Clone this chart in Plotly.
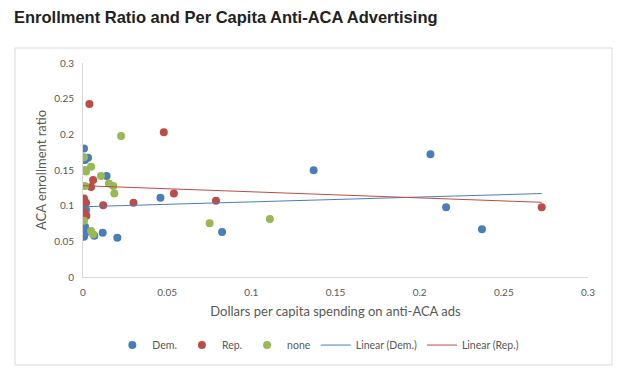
import plotly.graph_objects as go

dem_x = [0.0006, 0.0012, 0.003, 0.014, 0.046, 0.0006, 0.0018, 0.0012, 0.0012, 0.0006,
         0.0067, 0.0117, 0.0204, 0.0826, 0.137, 0.2064, 0.2157, 0.237]
dem_y = [0.180, 0.164, 0.167, 0.1416, 0.111, 0.0977, 0.094, 0.0705, 0.061, 0.0565,
         0.058, 0.062, 0.055, 0.063, 0.1496, 0.172, 0.0977, 0.0669]

rep_x = [0.0038, 0.048, 0.006, 0.0048, 0.0006, 0.0018, 0.012, 0.030, 0.054, 0.079,
         0.0006, 0.002, 0.2725]
rep_y = [0.2425, 0.203, 0.136, 0.126, 0.110, 0.104, 0.1005, 0.104, 0.117, 0.107,
         0.0907, 0.086, 0.0977]

none_x = [0.0226, 0.0006, 0.0012, 0.0018, 0.0048, 0.0107, 0.0154, 0.018, 0.0186,
          0.0012, 0.0006, 0.0048, 0.006, 0.0752, 0.111]
none_y = [0.1977, 0.1678, 0.150, 0.148, 0.1547, 0.1416, 0.131, 0.1276, 0.117,
          0.1276, 0.079, 0.0645, 0.060, 0.0752, 0.0813]

trend_x = [0.0, 0.2725]
dem_trend = [0.0985, 0.117]
rep_trend = [0.128, 0.1047]

ticks = [0, 0.05, 0.1, 0.15, 0.2, 0.25, 0.3]
tick_labels = ["0", "0.05", "0.1", "0.15", "0.2", "0.25", "0.3"]

BLUE = "#4A7EBB"
RED = "#BE4B48"
GREEN = "#98B954"
FONT = "Lato"

fig = go.Figure()
fig.add_trace(go.Scatter(x=dem_x, y=dem_y, mode="markers", name="Dem.",
                         marker=dict(color=BLUE, size=8)))
fig.add_trace(go.Scatter(x=rep_x, y=rep_y, mode="markers", name="Rep.",
                         marker=dict(color=RED, size=8)))
fig.add_trace(go.Scatter(x=none_x, y=none_y, mode="markers", name="none",
                         marker=dict(color=GREEN, size=8)))
fig.add_trace(go.Scatter(x=trend_x, y=dem_trend, mode="lines", name="Linear (Dem.)",
                         line=dict(color=BLUE, width=1)))
fig.add_trace(go.Scatter(x=trend_x, y=rep_trend, mode="lines", name="Linear (Rep.)",
                         line=dict(color=RED, width=1)))

fig.update_layout(
    width=613, height=379,
    margin=dict(l=75, r=33, t=55, b=110),
    paper_bgcolor="white", plot_bgcolor="white",
    font=dict(family=FONT, color="#595959", size=10),
    title=dict(text="<b>Enrollment Ratio and Per Capita Anti-ACA Advertising</b>",
               x=6 / 613, xanchor="left", y=1 - 9 / 379, yanchor="middle",
               font=dict(family="Liberation Sans, Arial", size=16.5, color="#222222")),
    showlegend=True,
    legend=dict(orientation="h", x=0.466, xanchor="center", y=-0.318, yanchor="middle",
                font=dict(size=10.5, color="#595959"), itemwidth=30,
                bgcolor="rgba(0,0,0,0)"),
    xaxis=dict(range=[0, 0.3], tickvals=ticks, ticktext=tick_labels,
               showgrid=False, zeroline=False, showline=True, linecolor="#D9D9D9",
               linewidth=1, ticks="", ticklabelstandoff=6,
               title=dict(text="Dollars per capita spending on anti-ACA ads",
                          font=dict(size=13, color="#595959"), standoff=9)),
    yaxis=dict(range=[0, 0.3], tickvals=ticks, ticktext=tick_labels,
               showgrid=False, zeroline=False, showline=True, linecolor="#D9D9D9",
               linewidth=1, ticks="", ticklabelstandoff=6,
               title=dict(text="ACA enrollment ratio",
                          font=dict(size=13, color="#595959"), standoff=4)),
    shapes=[dict(type="rect", xref="paper", yref="paper",
                 x0=(15 - 83) / 505, x1=(612 - 83) / 505,
                 y0=(277 - 365) / 214, y1=(277 - 48) / 214,
                 line=dict(color="#D9D9D9", width=1), fillcolor="rgba(0,0,0,0)",
                 layer="below")],
)

fig.write_html("out.html")
